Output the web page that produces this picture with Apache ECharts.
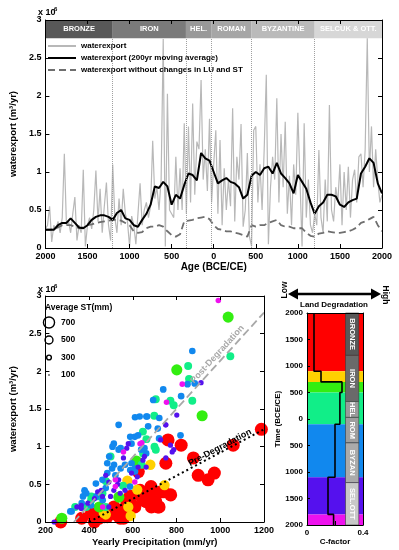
<!DOCTYPE html>
<html><head><meta charset="utf-8">
<script src="https://cdn.jsdelivr.net/npm/echarts@6/dist/echarts.min.js"></script>
<style>html,body{margin:0;padding:0;background:#fff}#c{width:399px;height:550px}</style>
</head><body><div id="c"></div>
<script>
const FONT = '"Liberation Sans", Arial, Helvetica, sans-serif';

// ---------------- top panel data (values in 10^6 m3/yr) ----------------
const yearStart = -2000;
const rawStep = 25;
const avgStep = 50;
const waterexport = [
  0.25, 0.30, 0.55, 0.08, 0.30, 0.25, 0.35, 0.20,
  0.40, 1.24, 0.30, 0.35, 0.20, 0.45, 0.67, 0.10,
  0.30, 0.20, 1.03, 0.02, 0.30, 0.40, 0.25, 0.50,
  1.02, 0.35, 0.78, 0.20, 0.55, 0.86, 0.30, 0.10,
  1.10, 0.40, 0.20, 0.65, 0.30, 0.78, 0.45, 0.35,
  0.02, 0.42, 0.30, 0.05, 0.45, 0.85, 0.30, 0.50,
  0.60, 0.40, 0.55, 1.41, 0.65, 0.80, 0.50, 0.90,
  2.75, 0.02, 2.03, 0.50, 0.45, 0.40, 1.20, 0.50,
  1.05, 0.50, 1.64, 0.45, 1.60, 0.60, 1.90, 0.70,
  1.40, 1.30, 2.21, 0.90, 1.30, 0.75, 1.70, 0.60,
  1.10, 1.55, 0.45, 1.42, 0.30, 1.05, 0.50, 0.90,
  0.55, 1.84, 0.35, 1.20, 0.90, 1.63, 0.28, 0.50,
  1.25, 0.15, 0.02, 1.55, 1.60, 0.60, 1.10, 0.50,
  1.30, 2.28, 0.05, 0.80, 1.20, 0.90, 1.97, 0.60,
  1.50, 0.80, 1.66, 0.45, 0.95, 0.30, 1.10, 0.70,
  1.78, 0.90, 0.02, 1.64, 0.40, 0.90, 0.30, 0.20,
  0.45, 0.30, 1.29, 0.40, 0.20, 0.90, 0.35, 1.88,
  0.50, 0.35, 0.80, 0.60, 1.10, 0.30, 1.00, 0.50,
  1.07, 0.40, 0.90, 1.03, 0.60, 1.20, 1.24, 0.80,
  1.30, 2.76, 1.00, 1.60, 0.80, 1.30, 0.89, 0.60,
  0.70
];
const waterexportAvg = [
  0.24,0.24,0.24,0.30,0.33,0.33,0.39,0.33,0.27,0.26,
  0.30,0.37,0.41,0.43,0.43,0.41,0.37,0.46,0.50,0.39,
  0.37,0.30,0.28,0.37,0.45,0.57,0.81,0.79,0.87,0.81,
  0.57,0.70,0.65,0.83,0.98,0.96,0.89,1.25,1.18,1.15,
  1.00,0.85,0.89,0.92,0.87,0.85,0.80,0.65,0.70,0.95,
  1.00,0.96,1.05,1.07,0.98,1.12,0.98,0.92,0.85,0.72,
  0.96,0.87,0.78,0.60,0.45,0.55,0.60,0.70,0.70,0.68,
  0.57,0.54,0.60,0.63,0.65,0.98,1.07,1.18,1.12,0.85,
  0.72
];
const waterexportNoChange = [
  0.24,0.24,0.25,0.27,0.30,0.30,0.30,0.28,0.26,0.27,
  0.30,0.31,0.33,0.34,0.35,0.36,0.37,0.37,0.36,0.33,
  0.30,0.22,0.20,0.21,0.26,0.28,0.28,0.30,0.28,0.22,
  0.17,0.15,0.18,0.35,0.36,0.37,0.39,0.40,0.41,0.38,
  0.30,0.25,0.24,0.22,0.22,0.20,0.19,0.17,0.15,0.30,
  0.28,0.30,0.30,0.33,0.35,0.37,0.30,0.28,0.28,0.26,
  0.26,0.26,0.20,0.16,0.15,0.19,0.20,0.22,0.21,0.20,
  0.20,0.21,0.22,0.24,0.27,0.33,0.35,0.38,0.41,0.30,
  0.22
];
const eraNames = ['BRONZE','IRON','HEL.','ROMAN','BYZANTINE','SELCUK & OTT.'];
const eraShort = ['BRONZE','IRON','HEL','ROM','BYZAN','SEL.OTT'];
const eraBounds = [-2000,-1200,-330,-30,450,1200,2000];
const headerFrom = 2.76;
const headerTo = 3;

// ---------------- scatter data [precipitation mm/yr, waterexport 10^6 m3/yr] ----------------
const stLegend = [700,500,300,100];
const groupST = [820,650,700,500,420,330,350];
const ptsRed = [[270,0.0],[366,0.05],[410,0.11],[424,0.0],[446,0.05],[455,0.16],[470,0.07],[483,0.07],[514,0.2],[520,0.14],[529,0.09],[542,0.05],[551,0.16],[558,0.05],[564,0.16],[573,0.25],[587,0.34],[596,0.34],[609,0.2],[625,0.67],[633,0.42],[648,0.29],[661,0.27],[677,0.36],[683,0.47],[685,0.2],[705,0.27],[714,0.2],[720,0.2],[729,0.4],[742,0.4],[751,0.78],[761,1.09],[773,0.36],[821,1.02],[877,0.85],[899,0.62],[944,0.56],[973,0.65],[1059,1.02],[1188,1.23]];
const ptsYellow = [[467,0.12],[476,0.1],[579,0.2],[590,0.08],[575,0.55],[620,0.43],[680,0.76],[745,0.49]];
const ptsLime = [[275,0.05],[446,0.2],[536,0.33],[616,0.81],[801,2.02],[917,1.41],[1036,2.72]];
const ptsMint = [[336,0.2],[387,0.2],[409,0.29],[410,0.34],[440,0.34],[461,0.38],[476,0.2],[477,0.54],[498,0.87],[555,0.48],[640,0.76],[647,0.91],[646,1.2],[662,1.1],[699,1.0],[705,0.96],[698,1.41],[705,1.63],[772,1.61],[787,1.55],[853,2.07],[857,1.9],[872,1.61],[1046,2.2]];
const ptsBlue = [[872,2.27],[850,1.83],[883,1.84],[821,1.67],[739,1.76],[693,1.62],[665,1.4],[631,1.4],[535,1.29],[609,1.13],[624,1.15],[594,1.04],[720,1.11],[513,1.04],[535,0.96],[483,0.78],[505,0.71],[653,0.98],[638,0.96],[661,0.91],[564,0.76],[594,0.78],[609,0.71],[520,0.62],[483,0.65],[431,0.51],[461,0.56],[387,0.38],[372,0.34],[320,0.14],[379,0.42],[587,0.47],[476,0.45],[409,0.22],[610,1.39],[662,1.4],[670,1.27],[721,1.38],[714,1.24],[818,1.15],[588,1.13],[544,0.98],[492,0.87],[507,1.0],[514,0.76],[544,0.71],[588,0.69],[610,0.67],[433,0.34],[381,0.4],[314,0.14],[366,0.25],[462,0.29]];
const ptsIndigo = [[912,1.85],[801,1.42],[750,1.29],[772,1.02],[787,0.96],[727,1.09],[653,0.87],[646,0.82],[579,1.04],[572,0.98],[557,0.85],[661,0.73],[624,0.73],[594,0.65],[476,0.62],[490,0.53],[535,0.56],[564,0.42],[513,0.42],[542,0.38],[439,0.4],[424,0.31],[461,0.34],[498,0.34],[364,0.22],[394,0.25],[364,0.18],[490,0.2],[751,1.29],[780,0.93],[751,0.85],[240,0.0],[344,0.2],[455,0.42],[620,0.6],[530,0.5]];
const ptsMagenta = [[991,2.94],[826,1.83],[754,1.59],[641,1.05],[557,0.93],[520,0.47],[520,0.56],[609,0.53],[633,1.04],[462,0.2]];
const postLine = [[330,0],[1200,2.78]];
const preLine = [[400,0],[1200,1.23]];

// ---------------- C-factor panel ----------------
const colourBounds = [-2000,-900,-700,-500,100,1100,1800,2000];
const cFactor = [0.05,0.10,0.25,0.235,0.20,0.15,0.19];

// ---------------- styles ----------------
const groupColors = ['#ff0000','#ffd000','#33ee11','#11ee88','#1188ee','#5511ee','#ee11ee'];
const eraTopColors = ['#585858','#7a7a7a','#999999','#a6a6a6','#bababa','#d7d7d7'];
const eraSideColors = ['#585858','#6a6a6a','#9a9a9a','#9e9e9e','#aaaaaa','#c8c8c8'];

const chart = echarts.init(document.getElementById('c'));
const boldTxt = {fontFamily: FONT, fontWeight: 'bold', color: '#000'};
const plain = v => String(Math.abs(v));

function ax(o) {
  return Object.assign({
    type: 'value', z: 10,
    axisLine: {show: true, onZero: false, lineStyle: {color: '#000', width: 1}},
    axisTick: {show: true, inside: true, length: 4, lineStyle: {color: '#000', width: 1}},
    axisLabel: Object.assign({fontSize: 9, margin: 4, formatter: plain}, boldTxt),
    splitLine: {show: false},
    nameTextStyle: Object.assign({fontSize: 9.5}, boldTxt)
  }, o);
}
function mirror(o) {
  return ax(Object.assign({axisLabel: {show: false}}, o));
}

const rawData = waterexport.map((v, i) => [yearStart + i * rawStep, v]);
const avgData = waterexportAvg.map((v, i) => [yearStart + i * avgStep, v]);
const ncData = waterexportNoChange.map((v, i) => [yearStart + i * avgStep, v]);

const stepPts = [];
cFactor.forEach((c, i) => { stepPts.push([c, colourBounds[i]]); stepPts.push([c, colourBounds[i + 1]]); });

const scatterGroups = [ptsRed, ptsYellow, ptsLime, ptsMint, ptsBlue, ptsIndigo, ptsMagenta];

const series = [
  {name: 'waterexport', type: 'line', xAxisIndex: 0, yAxisIndex: 0, data: rawData, symbol: 'none', z: 2,
   lineStyle: {color: '#b8b8b8', width: 1.2}, itemStyle: {color: '#b8b8b8'},
   markLine: {silent: true, symbol: ['none', 'none'], label: {show: false},
     lineStyle: {type: 'dotted', color: '#a0a0a0', width: 1},
     data: eraBounds.slice(1, -1).map(x => [{coord: [x, 0]}, {coord: [x, headerFrom]}])}},
  {name: 'waterexport without changes in LU and ST', type: 'line', xAxisIndex: 0, yAxisIndex: 0, data: ncData, symbol: 'none', z: 3,
   lineStyle: {color: '#6e6e6e', width: 1.8, type: [7, 4]}, itemStyle: {color: '#6e6e6e'}},
  {name: 'waterexport (200yr moving average)', type: 'line', xAxisIndex: 0, yAxisIndex: 0, data: avgData, symbol: 'none', z: 4,
   lineStyle: {color: '#000', width: 2}, itemStyle: {color: '#000'}},
  {name: 'header', type: 'line', xAxisIndex: 0, yAxisIndex: 0, data: rawData, symbol: 'none', z: 6, silent: true,
   lineStyle: {opacity: 0},
   markArea: {silent: true,
     label: {show: true, position: 'inside', color: '#fff', fontSize: 7.5, fontWeight: 'bold', fontFamily: FONT},
     data: eraNames.map((n, i) => [{name: n, xAxis: eraBounds[i], yAxis: headerFrom, itemStyle: {color: eraTopColors[i]}},
                                   {xAxis: eraBounds[i + 1], yAxis: headerTo}])}}
];

scatterGroups.forEach((pts, i) => {
  series.push({name: 'grp' + i, type: 'scatter', xAxisIndex: 2, yAxisIndex: 2, data: pts,
    symbolSize: groupST[i] / 63, z: 3 + i * 0.01, itemStyle: {color: groupColors[i], opacity: 1}, silent: true});
});
series.push({name: 'post', type: 'line', xAxisIndex: 2, yAxisIndex: 2, data: postLine, symbol: 'none', z: 5,
  lineStyle: {color: '#a8a8a8', width: 1.8, type: [8, 4]}});
series.push({name: 'pre', type: 'line', xAxisIndex: 2, yAxisIndex: 2, data: preLine, symbol: 'none', z: 5,
  lineStyle: {color: '#000', width: 2, type: [2, 3]}});

series.push({name: 'bands', type: 'line', xAxisIndex: 4, yAxisIndex: 4, data: stepPts, symbol: 'none', z: 1, silent: true,
  lineStyle: {opacity: 0},
  markArea: {silent: true,
    data: groupColors.map((c, i) => [{yAxis: colourBounds[i], itemStyle: {color: c}}, {yAxis: colourBounds[i + 1]}])
      .concat(eraShort.map((n, i) => [{name: n, xAxis: 0.275, yAxis: eraBounds[i],
        itemStyle: {color: eraSideColors[i], borderColor: '#3a3a3a', borderWidth: 0.6},
        label: {show: true, position: 'inside', rotate: -90, color: '#fff', fontSize: 7.5, fontWeight: 'bold', fontFamily: FONT}},
        {xAxis: 0.37, yAxis: eraBounds[i + 1]}]))}});
series.push({name: 'cfactor', type: 'line', xAxisIndex: 4, yAxisIndex: 4, data: stepPts, symbol: 'none', z: 5,
  lineStyle: {color: '#000', width: 1.6}});

const option = {
  animation: false,
  backgroundColor: '#fff',
  grid: [
    {left: 39, top: 20, width: 343, height: 228},
    {left: 38, top: 296, width: 226, height: 226},
    {left: 307, top: 313, width: 56, height: 212}
  ],
  xAxis: [
    ax({gridIndex: 0, min: -2000, max: 2000, interval: 500, position: 'bottom',
        name: 'Age (BCE/CE)', nameLocation: 'middle', nameGap: 14,
        nameTextStyle: Object.assign({fontSize: 10}, boldTxt)}),
    mirror({gridIndex: 0, min: -2000, max: 2000, interval: 500, position: 'top'}),
    ax({gridIndex: 1, min: 200, max: 1200, interval: 200, position: 'bottom',
        name: 'Yearly Precipitation (mm/yr)', nameLocation: 'middle', nameGap: 15,
        nameTextStyle: Object.assign({fontSize: 9.5}, boldTxt)}),
    mirror({gridIndex: 1, min: 200, max: 1200, interval: 200, position: 'top'}),
    ax({gridIndex: 2, min: 0, max: 0.4, interval: 0.2, position: 'bottom',
        axisLabel: Object.assign({fontSize: 8, margin: 4, formatter: v => (Math.abs(v - 0.2) < 1e-9 ? '' : String(v))}, boldTxt),
        name: 'C-factor', nameLocation: 'middle', nameGap: 11,
        nameTextStyle: Object.assign({fontSize: 8}, boldTxt)}),
    mirror({gridIndex: 2, min: 0, max: 0.4, interval: 0.2, position: 'top', axisTick: {show: false}})
  ],
  yAxis: [
    ax({gridIndex: 0, min: 0, max: 3, interval: 0.5, position: 'left',
        name: 'waterexport (m³/yr)', nameLocation: 'middle', nameGap: 21}),
    mirror({gridIndex: 0, min: 0, max: 3, interval: 0.5, position: 'right'}),
    ax({gridIndex: 1, min: 0, max: 3, interval: 0.5, position: 'left',
        name: 'waterexport (m³/yr)', nameLocation: 'middle', nameGap: 19}),
    mirror({gridIndex: 1, min: 0, max: 3, interval: 0.5, position: 'right'}),
    ax({gridIndex: 2, min: -2000, max: 2000, interval: 500, inverse: true, position: 'left',
        axisLabel: Object.assign({fontSize: 8, margin: 4, formatter: plain}, boldTxt),
        axisTick: {show: true, inside: true, length: 3, lineStyle: {color: '#000'}},
        name: 'Time (BCE/CE)', nameLocation: 'middle', nameGap: 23,
        nameTextStyle: Object.assign({fontSize: 8}, boldTxt)}),
    mirror({gridIndex: 2, min: -2000, max: 2000, interval: 500, inverse: true, position: 'right', axisTick: {show: false}})
  ],
  legend: {
    data: ['waterexport', 'waterexport (200yr moving average)', 'waterexport without changes in LU and ST'],
    orient: 'vertical', left: 42, top: 37, itemWidth: 28, itemHeight: 8, itemGap: 4,
    itemStyle: {opacity: 0, borderWidth: 0},
    textStyle: Object.assign({fontSize: 8}, boldTxt), selectedMode: false
  },
  series: series
};
chart.setOption(option);

// ---------------- annotations ----------------
const g = [];
function text(x, y, t, size, extra) {
  const base = {text: t, fontSize: size, fontWeight: 'bold', fontFamily: FONT, fill: '#000', align: 'left', verticalAlign: 'middle'};
  const el = Object.assign({type: 'text', x: x, y: y, z: 100, silent: true}, extra || {});
  el.style = Object.assign(base, (extra && extra.style) || {});
  g.push(el);
}
// x 10^6 exponents
text(38, 13, 'x 10', 9);
text(54, 9, '6', 6);
text(38, 290, 'x 10', 9);
text(54, 286, '6', 6);
// size legend
text(45, 307.5, 'Average ST(mm)', 8.5);
const legR = stLegend.map(v => v / 63 / 2);
const legY = [322.5, 340, 357.5, 375];
stLegend.forEach((v, i) => {
  g.push({type: 'circle', z: 100, silent: true, shape: {cx: 49, cy: legY[i], r: legR[i]},
    style: i === 3 ? {fill: '#000'} : {fill: 'none', stroke: '#000', lineWidth: 1.4}});
  text(61, legY[i], String(v), 8.5);
});
// land degradation arrow
g.push({type: 'line', z: 100, silent: true, shape: {x1: 295, y1: 294, x2: 373, y2: 294}, style: {stroke: '#000', lineWidth: 2.6}});
g.push({type: 'polygon', z: 100, silent: true, shape: {points: [[288, 294], [298, 288.5], [298, 299.5]]}, style: {fill: '#000'}});
g.push({type: 'polygon', z: 100, silent: true, shape: {points: [[381, 294], [371, 288.5], [371, 299.5]]}, style: {fill: '#000'}});
text(334, 304.5, 'Land Degradation', 8, {style: {align: 'center'}});
text(285, 290, 'Low', 8.5, {rotation: Math.PI / 2, style: {align: 'center'}});
text(385, 295, 'High', 8.5, {rotation: -Math.PI / 2, style: {align: 'center'}});

// labels along degradation lines
function lineLabel(pts, t, frac, color, off) {
  const p0 = chart.convertToPixel({xAxisIndex: 2, yAxisIndex: 2}, pts[0]);
  const p1 = chart.convertToPixel({xAxisIndex: 2, yAxisIndex: 2}, pts[1]);
  const ang = Math.atan2(p0[1] - p1[1], p1[0] - p0[0]);
  const cx = p0[0] + (p1[0] - p0[0]) * frac - Math.sin(ang) * off;
  const cy = p0[1] + (p1[1] - p0[1]) * frac - Math.cos(ang) * off;
  g.push({type: 'text', x: cx, y: cy, rotation: ang, z: 100, silent: true,
    style: {text: t, fontSize: 9, fontWeight: 'bold', fontFamily: FONT, fill: color, align: 'center', verticalAlign: 'bottom'}});
}
lineLabel(postLine, 'Post-Degradation', 0.78, '#a8a8a8', 2);
lineLabel(preLine, 'Pre-Degradation', 0.76, '#000', 0);

chart.setOption({graphic: g});
</script>
</body></html>
